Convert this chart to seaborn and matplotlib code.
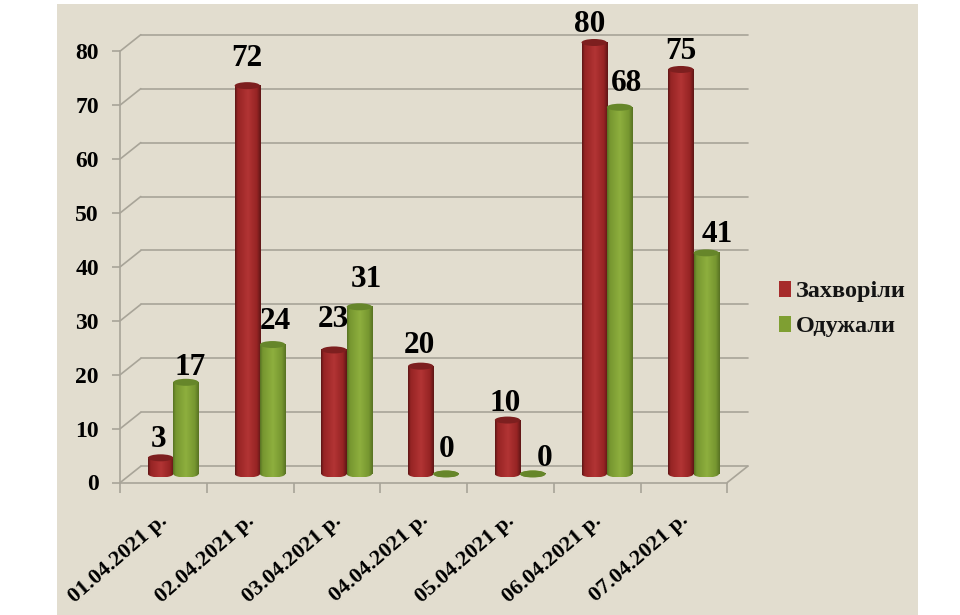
import numpy as np
import pandas as pd
import matplotlib
matplotlib.use('Agg')
import matplotlib.pyplot as plt
from matplotlib.patches import Ellipse, Rectangle
from matplotlib.transforms import ScaledTranslation
import seaborn as sns

dates = ['01.04.2021 р.', '02.04.2021 р.', '03.04.2021 р.', '04.04.2021 р.',
         '05.04.2021 р.', '06.04.2021 р.', '07.04.2021 р.']
sick = [3, 72, 23, 20, 10, 80, 75]
recovered = [17, 24, 31, 0, 0, 68, 41]
y_ticks = [0, 10, 20, 30, 40, 50, 60, 70, 80]

# label nudges in pixels, the original labels sit by hand
sick_nudge = [(-2, 22), (0, 31), (-1, 34), (-1, 24), (-2, 20), (-4, 21), (0, 21)]
recovered_nudge = [(4, 18), (3, 27), (7, 31), (1, 28), (12, 19), (7, 27), (11, 22)]

BG = '#e2ddcf'
LINE = '#a8a498'
RED = '#a62b2b'
GREEN = '#7f9f32'
W, H = 960, 615

sns.set_theme(style='white')
plt.rcParams['font.family'] = ['Liberation Serif', 'DejaVu Serif']

df = pd.DataFrame({
    'date': dates * 2,
    'value': sick + recovered,
    'group': ['Захворіли'] * 7 + ['Одужали'] * 7,
})


def box(x0, y0, x1, y1):
    return [x0 / W, 1 - y1 / H, (x1 - x0) / W, (y1 - y0) / H]


def shades(dark, mid, light):
    stops = [0, 0.1, 0.5, 0.85, 1]
    cols = np.array([dark, mid, light, mid, dark])
    pos = np.linspace(0, 1, 60)
    rgb = np.stack([np.interp(pos, stops, cols[:, i]) for i in range(3)], axis=-1)
    return rgb[np.newaxis, :, :] / 255


fig = plt.figure(figsize=(W / 100, H / 100), dpi=100, facecolor='white')
fig.patches.append(Rectangle((57 / W, 0), 861 / W, 611 / H, transform=fig.transFigure,
                             facecolor=BG, edgecolor='none', zorder=-5))

# three planes of the fake 3d chart: back wall, front axis, bars
left, right, zero, top = 120.3, 727.3, 482.5, 51
back_ax = fig.add_axes(box(left + 20.5, top - 16.3, right + 20.5, zero - 16.3))
ax = fig.add_axes(box(left, top, right, zero))
bar_ax = fig.add_axes(box(left + 9.6, top - 8.5, right + 9.6, zero - 8.5))
for a in (back_ax, ax, bar_ax):
    a.patch.set_alpha(0)
    a.set_xlim(-0.5, 6.5)
    a.set_ylim(0, 80)

back_ax.set_yticks(y_ticks)
back_ax.set_xticks([])
back_ax.tick_params(left=False, labelleft=False)
back_ax.grid(axis='y', color=LINE, linewidth=1.2)
for gl in back_ax.get_ygridlines():
    gl.set_clip_on(False)
sns.despine(ax=back_ax, left=True, bottom=True)

ax.set_yticks(y_ticks)
ax.set_xticks(range(7))
ax.set_xticklabels(dates, rotation=41, ha='right', rotation_mode='anchor',
                   fontsize=16, fontweight='bold', color='black')
ax.set_xticks(np.arange(-0.5, 7), minor=True)
ax.tick_params(axis='x', which='major', length=0, pad=20)
ax.tick_params(axis='x', which='minor', length=7, width=1.2, color=LINE, bottom=True)
ax.tick_params(axis='y', length=6, width=1.2, color=LINE, left=True, pad=9.5)
shift = ScaledTranslation(-5 / 100, 0, fig.dpi_scale_trans)
for t in ax.get_xticklabels():
    t.set_transform(t.get_transform() + shift)
for t in ax.get_yticklabels():
    t.set_fontsize(17)
    t.set_fontweight('bold')
    t.set_color('black')
sns.despine(ax=ax)
for side in ('left', 'bottom'):
    ax.spines[side].set_color(LINE)
    ax.spines[side].set_linewidth(1.2)

# side wall diagonals
px_x = (right - left) / 7
px_y = (zero - top) / 80
for v in y_ticks:
    ax.plot([-0.5, -0.5 + 20.5 / px_x], [v, v + 16.3 / px_y], color=LINE, lw=1.2, clip_on=False)
ax.plot([6.5, 6.5 + 20.5 / px_x], [0, 16.3 / px_y], color=LINE, lw=1.2, clip_on=False)

sns.barplot(data=df, x='date', y='value', hue='group', order=dates, ax=bar_ax,
            palette=[RED, GREEN], width=0.584, gap=0, saturation=1, legend=True)

looks = [
    (shades((95, 22, 22), (150, 36, 36), (178, 52, 52)), '#7d1f1f'),
    (shades((88, 115, 35), (118, 150, 48), (142, 175, 62)), '#66862a'),
]
cap_h = 7 / px_y
for n, (container, look) in enumerate(zip(bar_ax.containers, looks)):
    gradient, cap = look
    for bar in container:
        x0, w, h = bar.get_x(), bar.get_width(), bar.get_height()
        bar.set_visible(False)
        z = 2 + n
        foot = Ellipse((x0 + w / 2, 0), w, cap_h, fc='none', ec='none', clip_on=False)
        body = Rectangle((x0, 0), w, h, fc='none', ec='none')
        bar_ax.add_patch(foot)
        bar_ax.add_patch(body)
        for clip, y0, y1 in ((foot, -cap_h / 2, cap_h / 2), (body, 0, max(h, 0.01))):
            im = bar_ax.imshow(gradient, extent=(x0, x0 + w, y0, y1), aspect='auto', zorder=z)
            im.set_clip_path(clip)
            im.set_clip_box(fig.bbox)
        bar_ax.add_patch(Ellipse((x0 + w / 2, h), w, cap_h, fc=cap, ec='none',
                                 zorder=z + 0.5, clip_on=False))

bar_ax.set_xlim(-0.5, 6.5)
bar_ax.set_ylim(0, 80)
bar_ax.axis('off')

# value labels
for n, (values, nudges) in enumerate(((sick, sick_nudge), (recovered, recovered_nudge))):
    for i, (v, nudge) in enumerate(zip(values, nudges)):
        xpos = i + (n - 0.5) * 0.292
        bar_ax.annotate(str(v), (xpos, v), xytext=(nudge[0] * 0.72, nudge[1] * 0.72),
                        textcoords='offset points', ha='center', va='center_baseline',
                        fontsize=22.5, fontweight='bold', color='black', zorder=10)

sns.move_legend(bar_ax, loc='center left', bbox_to_anchor=(779 / W, 1 - 309 / H),
                bbox_transform=fig.transFigure, frameon=False, title=None,
                prop={'size': 17.5, 'weight': 'bold'}, handlelength=0.5, handleheight=0.66,
                handletextpad=0.2, labelspacing=0.55, borderpad=0, borderaxespad=0)
legend = bar_ax.get_legend()
for text in legend.get_texts():
    text.set_color('#141414')
for handle in legend.get_patches():
    handle.set_linewidth(0)

fig.savefig('out.png', dpi=100, facecolor='white')
